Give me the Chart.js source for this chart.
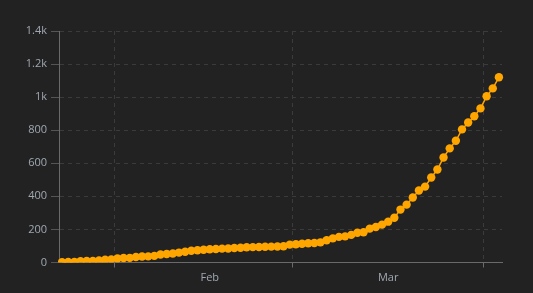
<!DOCTYPE html>
<html>
<head>
<meta charset="utf-8">
<script src="https://cdn.jsdelivr.net/npm/chart.js@4"></script>
<style>
  html, body { margin: 0; padding: 0; background: #222222; }
  #wrap { width: 533px; height: 293px; }
</style>
</head>
<body>
<div id="wrap"><canvas id="casesChart"></canvas></div>
<script>
// daily totals, one per day starting Jan 23
const startDay = [2020, 0, 23];
const totals = [
    2, 3, 3, 8, 9, 10, 12, 17, 19, 24,
    27, 28, 33, 36, 37, 40, 48, 51, 54, 60,
    65, 71, 74, 77, 80, 82, 84, 85, 88, 89,
    92, 93, 94, 95, 96, 97, 98, 108, 110, 113,
    116, 118, 122, 135, 146, 155, 158, 167, 180, 183,
    205, 215, 229, 247, 271, 320, 350, 393, 435, 459,
    514, 562, 635, 690, 736, 805, 847, 884, 932, 1005,
    1053, 1120
];
const monthStartDays = ['2020-02-01', '2020-03-01', '2020-04-01'];
const monthLabelDays = ['2020-02-16', '2020-03-16'];
const monthNames = ['Feb', 'Mar'];

const days = totals.map((_, i) =>
    new Date(Date.UTC(startDay[0], startDay[1], startDay[2] + i)).toISOString().slice(0, 10));

function isMonthStart(ctx) {
    return ctx.index !== undefined && monthStartDays.includes(days[ctx.index]);
}

const labelColor = '#a0a8b2';
const gridColor = '#3b3b3b';
const axisColor = '#6a6a6a';

const ctx = document.getElementById('casesChart').getContext('2d');
window.casesChartInstance = new Chart(ctx, {
    type: 'line',
    data: {
        labels: days,
        datasets: [{
            label: 'Total',
            data: totals,
            borderColor: '#ffa500',
            backgroundColor: '#ffa500',
            borderWidth: 1.5,
            pointRadius: 4.2,
            pointHoverRadius: 4.2,
            pointBorderWidth: 0,
            tension: 0,
            fill: false
        }]
    },
    options: {
        responsive: true,
        maintainAspectRatio: false,
        animation: false,
        layout: { padding: { top: 31, right: 31, left: 0, bottom: 0 } },
        plugins: {
            legend: { display: false },
            tooltip: { enabled: false }
        },
        scales: {
            x: {
                type: 'category',
                offset: true,
                afterFit: scale => { scale.height = 30.5; },
                border: { color: axisColor, width: 1, dash: [4, 4] },
                grid: {
                    offset: true,
                    color: c => isMonthStart(c) ? gridColor : 'transparent',
                    tickColor: c => isMonthStart(c) ? axisColor : 'transparent',
                    tickLength: 5,
                    lineWidth: 1
                },
                ticks: {
                    autoSkip: false,
                    maxRotation: 0,
                    padding: 4,
                    color: labelColor,
                    font: { family: 'Open Sans', size: 11 },
                    callback: function(value) {
                        const day = this.getLabelForValue(value);
                        const k = monthLabelDays.indexOf(day);
                        return k >= 0 ? monthNames[k] : '';
                    }
                }
            },
            y: {
                min: 0,
                max: 1400,
                afterFit: scale => { scale.width = 59; },
                border: { color: axisColor, width: 1, dash: [4, 4] },
                grid: {
                    color: gridColor,
                    tickColor: '#555555',
                    tickLength: 8,
                    lineWidth: 1
                },
                ticks: {
                    stepSize: 200,
                    padding: 4,
                    color: labelColor,
                    font: { family: 'Open Sans', size: 11 },
                    callback: function(value) {
                        return value >= 1000 ? (value / 1000) + 'k' : value;
                    }
                }
            }
        }
    }
});
</script>
</body>
</html>
